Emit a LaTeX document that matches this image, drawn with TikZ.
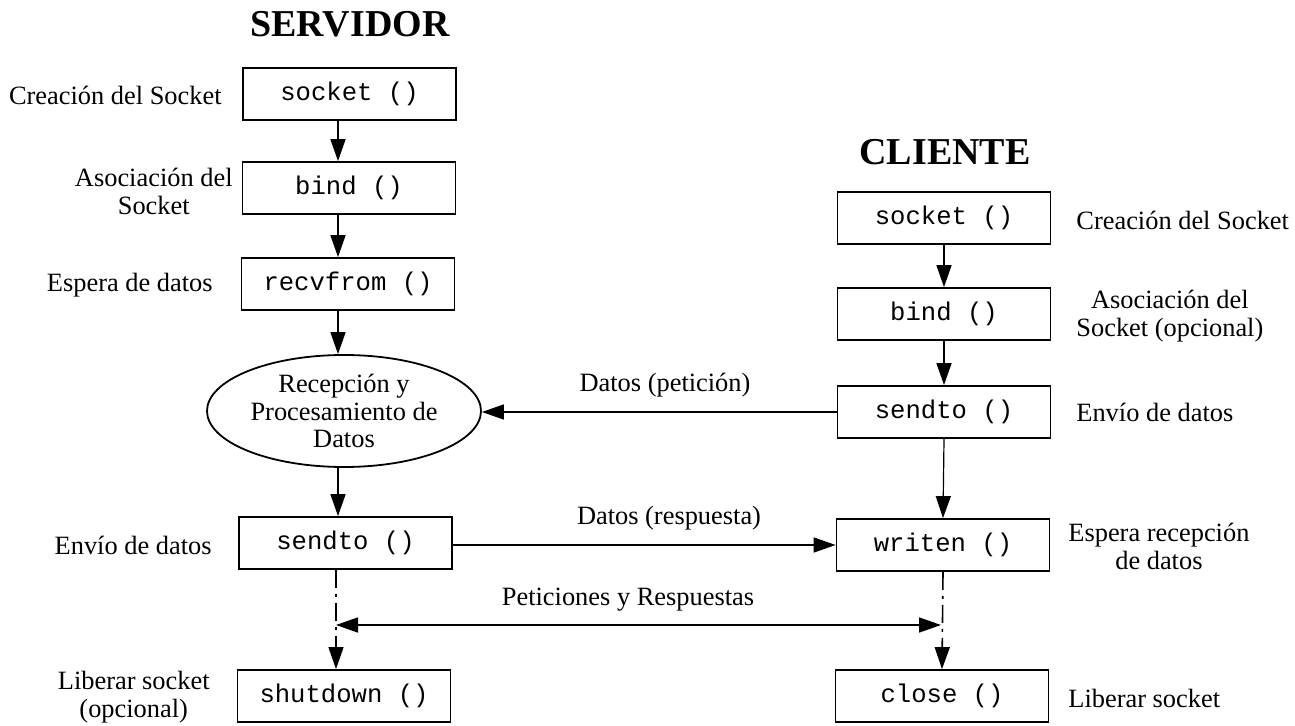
\documentclass[tikz,border=0pt]{standalone}
\usepackage{fontspec}
\setmainfont{Liberation Serif}
\setmonofont{Liberation Mono}
\usetikzlibrary{arrows.meta,shapes.geometric}
\begin{document}
\begin{tikzpicture}[x=0.5pt,y=-0.5pt,
  call/.style={draw, line width=0.9pt, minimum width=106.5pt, minimum height=26pt,
    inner sep=0pt, font=\fontsize{12.8}{14}\ttfamily},
  proc/.style={ellipse, draw, line width=0.9pt, minimum width=137pt, minimum height=56pt,
    inner sep=0pt, align=center, font=\fontsize{13.2}{13.7}\selectfont},
  note/.style={inner sep=0pt, align=center, font=\fontsize{13.2}{14}\selectfont},
  heading/.style={inner sep=0pt, font=\fontsize{19}{22}\selectfont\bfseries},
  tip/.tip={Triangle[length=11pt,width=7.5pt]},
  flow/.style={line width=0.8pt, -tip},
  release/.style={flow, dash pattern=on 9pt off 3pt on 1.5pt off 3pt},
]
\useasboundingbox (0,0) rectangle (1295,726);

% headings
\node[heading] (hs) at (350,24) {SERVIDOR};
\node[heading] (hc) at (945,152) {CLIENTE};

% server column
\node[call] (ss1) at (349.5,94)  {socket ()};
\node[call] (ss2) at (349,188)   {bind ()};
\node[call] (ss3) at (348,284)   {recvfrom ()};
\node[proc] (proc) at (344,411)  {Recepción y\\Procesamiento de\\Datos};
\node[call] (ss4) at (345.5,543) {sendto ()};
\node[call] (ss5) at (344,696)   {shutdown ()};

% client column
\node[call] (cs1) at (944,218) {socket ()};
\node[call] (cs2) at (944,314) {bind ()};
\node[call] (cs3) at (944,412) {sendto ()};
\node[call] (cs4) at (943,545) {writen ()};
\node[call] (cs5) at (942,696) {close ()};

% server side descriptions
\node[note, anchor=east] (l1) at (222,95)  {Creación del Socket};
\node[note, anchor=east] (l2) at (233,191) {Asociación del\\Socket};
\node[note, anchor=east] (l3) at (213,285) {Espera de datos};
\node[note, anchor=east] (l4) at (212,545) {Envío de datos};
\node[note, anchor=east] (l5) at (210,697) {Liberar socket\\(opcional)};

% client side descriptions
\node[note, anchor=west] (r1) at (1076,220) {Creación del Socket};
\node[note, anchor=west] (r2) at (1076,316) {Asociación del\\Socket (opcional)};
\node[note, anchor=west] (r3) at (1076,412) {Envío de datos};
\node[note, anchor=west] (r4) at (1068,546) {Espera recepción\\de datos};
\node[note, anchor=west] (r5) at (1068,698) {Liberar socket};

% column guides
\coordinate (sx) at (338,0);
\coordinate (sxd) at (336,0);

% server flow
\draw[flow] (ss1.south -| sx) -- (ss2.north -| sx);
\draw[flow] (ss2.south -| sx) -- (ss3.north -| sx);
\draw[flow] (ss3.south -| sx) -- (proc.north -| sx);
\draw[flow] (proc.south -| sx) -- (ss4.north -| sx);
\draw[release] (ss4.south -| sxd) -- (ss5.north -| sxd);

% client flow
\draw[flow] (cs1.south) -- (cs2.north);
\draw[flow] (cs2.south) -- (cs3.north);
\draw[flow, line width=0.6pt] (cs3.south) -- (cs4.north);
\draw[release] (cs4.south) -- (cs5.north);

% exchanges
\draw[flow] (cs3.west) -- (cs3.west -| proc.east);
\node[note] (tp) at (665,385) {Datos (petición)};
\draw[flow] (ss4.east |- cs4.west) -- (cs4.west);
\node[note] (tr) at (669,518) {Datos (respuesta)};

\coordinate (pl) at (336,625);
\coordinate (pr) at (941,625);
\draw[line width=0.8pt, tip-tip] (pl) -- (pr);
\node[note] (tq) at (628,600) {Peticiones y Respuestas};
\end{tikzpicture}
\end{document}
